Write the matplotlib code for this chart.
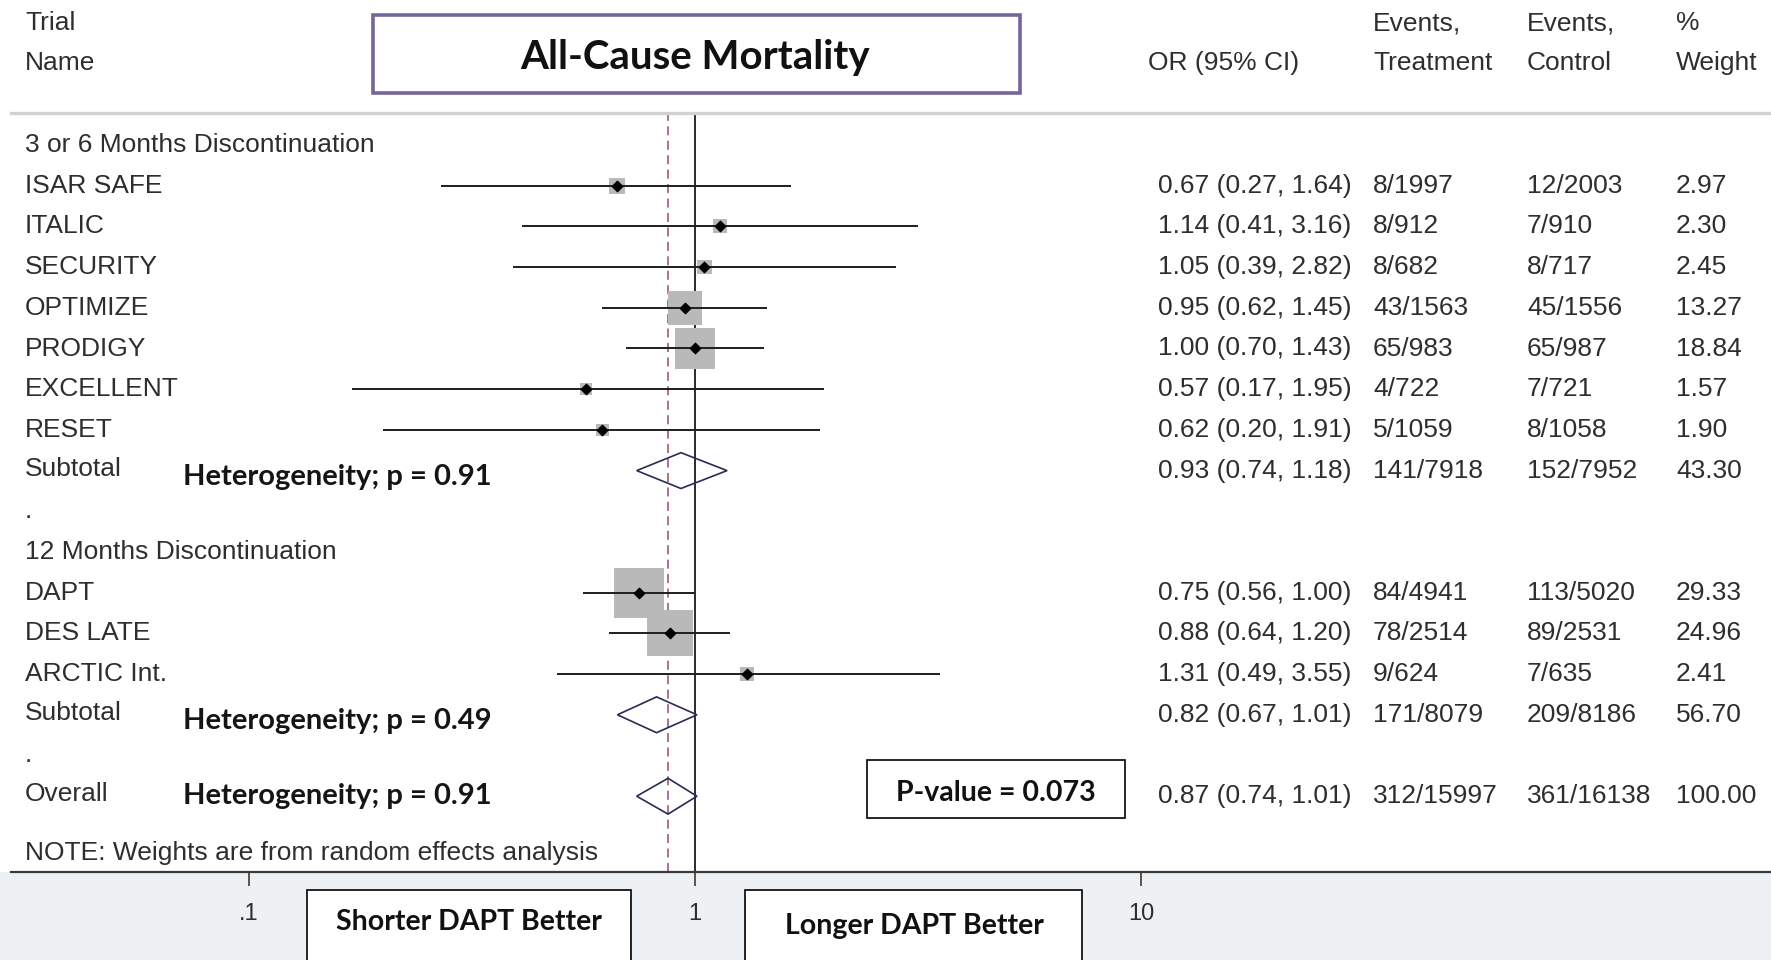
import matplotlib
matplotlib.use("Agg")
import matplotlib.pyplot as plt
import matplotlib.transforms as mtransforms
from matplotlib.patches import Polygon, Rectangle

# ---------------- data ----------------
group_titles = ["3 or 6 Months Discontinuation", "12 Months Discontinuation"]

trials_a = ["ISAR SAFE", "ITALIC", "SECURITY", "OPTIMIZE", "PRODIGY", "EXCELLENT", "RESET"]
or_a = [0.67, 1.14, 1.05, 0.95, 1.00, 0.57, 0.62]
lo_a = [0.27, 0.41, 0.39, 0.62, 0.70, 0.17, 0.20]
hi_a = [1.64, 3.16, 2.82, 1.45, 1.43, 1.95, 1.91]
evt_a = ["8/1997", "8/912", "8/682", "43/1563", "65/983", "4/722", "5/1059"]
evc_a = ["12/2003", "7/910", "8/717", "45/1556", "65/987", "7/721", "8/1058"]
wt_a = [2.97, 2.30, 2.45, 13.27, 18.84, 1.57, 1.90]

trials_b = ["DAPT", "DES LATE", "ARCTIC Int."]
or_b = [0.75, 0.88, 1.31]
lo_b = [0.56, 0.64, 0.49]
hi_b = [1.00, 1.20, 3.55]
evt_b = ["84/4941", "78/2514", "9/624"]
evc_b = ["113/5020", "89/2531", "7/635"]
wt_b = [29.33, 24.96, 2.41]

# pooled estimates: subtotal A, subtotal B, overall
pooled_labels = ["Subtotal", "Subtotal", "Overall"]
pooled_or = [0.93, 0.82, 0.87]
pooled_lo = [0.74, 0.67, 0.74]
pooled_hi = [1.18, 1.01, 1.01]
pooled_evt = ["141/7918", "171/8079", "312/15997"]
pooled_evc = ["152/7952", "209/8186", "361/16138"]
pooled_wt = [43.30, 56.70, 100.00]
heterogeneity_p = [0.91, 0.49, 0.91]
overall_p = 0.073

x_ticks = [0.1, 1, 10]
x_ticklabels = [".1", "1", "10"]

# ---------------- layout (pixels) ----------------
W, H, DPI = 1771, 960, 100
X_ONE = 695          # x pixel of OR = 1
DECADE = 446         # pixels per log10 decade
ROW0_Y = 145         # y pixel of first row
ROW_H = 40.7         # row pitch
AXIS_Y = 872
HEADER_Y = 113
AX_LEFT = 11

REG = ["Liberation Sans", "DejaVu Sans"]
BOLD = ["Lato", "DejaVu Sans"]
TXT = "#2e2e2e"
FS = 19


def px_to_or(x):
    return 10 ** ((x - X_ONE) / DECADE)


def py_to_row(y):
    return (y - ROW0_Y) / ROW_H


def fx(x):
    return x / W


def fy(y):
    return 1 - y / H


fig = plt.figure(figsize=(W / DPI, H / DPI), dpi=DPI)
fig.patch.set_facecolor("white")

# light band under the axis
fig.add_artist(Rectangle((0, 0), 1, fy(AXIS_Y), transform=fig.transFigure,
                         facecolor="#eef1f3", edgecolor="none", zorder=0))

ax = fig.add_axes([fx(AX_LEFT), fy(AXIS_Y), 1 - fx(AX_LEFT), (AXIS_Y - HEADER_Y) / H])
ax.set_xscale("log")
ax.set_xlim(px_to_or(AX_LEFT), px_to_or(W))
ax.set_ylim(py_to_row(AXIS_Y), py_to_row(HEADER_Y))
ax.patch.set_alpha(0)
for s in ["left", "right"]:
    ax.spines[s].set_visible(False)
ax.spines["top"].set_color("#d2d2d2")
ax.spines["top"].set_linewidth(2.4)
ax.spines["bottom"].set_color("#3a3a3a")
ax.spines["bottom"].set_linewidth(1.6)
ax.set_yticks([])
ax.set_xticks(x_ticks)
ax.set_xticklabels(x_ticklabels)
ax.xaxis.set_minor_locator(matplotlib.ticker.NullLocator())
ax.tick_params(axis="x", direction="out", length=10, width=1.2, color="#3a3a3a",
               pad=12, labelsize=17, labelcolor=TXT)
for lab in ax.get_xticklabels():
    lab.set_family(REG)

# row positions
rows_a = list(range(1, 1 + len(trials_a)))
sub_a_row = rows_a[-1] + 1
head_b_row = sub_a_row + 2
rows_b = list(range(head_b_row + 1, head_b_row + 1 + len(trials_b)))
sub_b_row = rows_b[-1] + 1
overall_row = sub_b_row + 2
pooled_rows = [sub_a_row, sub_b_row, overall_row]
het_offsets = [0.15, 0.15, 0.0]
note_row = overall_row + 1.4

# reference lines
ax.axvline(1, color="#1a1a1a", lw=1.3, zorder=1)
ax.axvline(pooled_or[2], color="#a8677f", lw=1.3, ls=(0, (5, 3)), zorder=1)

# study estimates
SQ = 36 ** 2 / 29.33   # square area (pt^2) per % weight
for rows, o, lo, hi, w in [(rows_a, or_a, lo_a, hi_a, wt_a), (rows_b, or_b, lo_b, hi_b, wt_b)]:
    ax.scatter(o, rows, s=[SQ * v for v in w], marker="s", color="#b9b9b9",
               edgecolors="none", zorder=2)
    ax.hlines(rows, lo, hi, color="#1e1e1e", lw=1.4, zorder=3)
    ax.scatter(o, rows, s=28, marker="D", color="black", zorder=4)

# pooled diamonds
HALF = 0.44
for r, o, lo, hi in zip(pooled_rows, pooled_or, pooled_lo, pooled_hi):
    ax.add_patch(Polygon([(lo, r), (o, r - HALF), (hi, r), (o, r + HALF)], closed=True,
                         fill=False, edgecolor="#2a2a58", lw=1.2, zorder=5))

# ---------------- text ----------------
tr = mtransforms.blended_transform_factory(fig.transFigure, ax.transData)
X_NAME, X_HET = 25, 183
X_OR, X_EVT, X_EVC, X_WT = 1158, 1373, 1527, 1676


def rtext(x, r, s, **kw):
    kw.setdefault("family", REG)
    kw.setdefault("fontsize", FS)
    kw.setdefault("color", TXT)
    ax.text(fx(x), r, s, transform=tr, ha="left", va="center", **kw)


def fmt_ci(o, lo, hi):
    return f"{o:.2f} ({lo:.2f}, {hi:.2f})"


rtext(X_NAME, 0, group_titles[0])
rtext(X_NAME, head_b_row, group_titles[1])
rtext(X_NAME, sub_a_row + 1, ".")
rtext(X_NAME, sub_b_row + 1, ".")
rtext(X_NAME, note_row, "NOTE: Weights are from random effects analysis")

for rows, names, o, lo, hi, et, ec, w in [
        (rows_a, trials_a, or_a, lo_a, hi_a, evt_a, evc_a, wt_a),
        (rows_b, trials_b, or_b, lo_b, hi_b, evt_b, evc_b, wt_b)]:
    for i, r in enumerate(rows):
        rtext(X_NAME, r, names[i])
        rtext(X_OR, r, fmt_ci(o[i], lo[i], hi[i]))
        rtext(X_EVT, r, et[i])
        rtext(X_EVC, r, ec[i])
        rtext(X_WT, r, f"{w[i]:.2f}")

for i, r in enumerate(pooled_rows):
    rtext(X_NAME, r - 0.05, pooled_labels[i])
    rtext(X_HET, r + het_offsets[i], f"Heterogeneity; p = {heterogeneity_p[i]:.2f}",
          family=BOLD, fontweight="bold", fontsize=21, color="#151515")
    rtext(X_OR, r, fmt_ci(pooled_or[i], pooled_lo[i], pooled_hi[i]))
    rtext(X_EVT, r, pooled_evt[i])
    rtext(X_EVC, r, pooled_evc[i])
    rtext(X_WT, r, f"{pooled_wt[i]:.2f}")

# column headers
hdr = dict(family=REG, fontsize=FS, color=TXT, ha="left", va="center")
fig.text(fx(25), fy(23), "Trial", **hdr)
fig.text(fx(25), fy(63), "Name", **hdr)
fig.text(fx(1148), fy(63), "OR (95% CI)", **hdr)
fig.text(fx(1373), fy(23), "Events,", **hdr)
fig.text(fx(1373), fy(63), "Treatment", **hdr)
fig.text(fx(1527), fy(23), "Events,", **hdr)
fig.text(fx(1527), fy(63), "Control", **hdr)
fig.text(fx(1676), fy(23), "%", **hdr)
fig.text(fx(1676), fy(63), "Weight", **hdr)


def boxed(x0, y0, x1, y1, label, tx, ty, edge="black", lw=1.2, size=20.5):
    fig.add_artist(Rectangle((fx(x0), fy(y1)), fx(x1 - x0), (y1 - y0) / H,
                             transform=fig.transFigure, facecolor="white",
                             edgecolor=edge, lw=lw, zorder=3))
    fig.text(fx(tx), fy(ty), label, family=BOLD, fontweight="bold", fontsize=size,
             color="#111111", ha="center", va="center", zorder=4)


boxed(373, 15, 1020, 93, "All-Cause Mortality", 695, 57, edge="#74659a", lw=2.6, size=29)
boxed(867, 760, 1125, 818, f"P-value = {overall_p}", 996, 793)
boxed(307, 890, 631, 970, "Shorter DAPT Better", 469, 922)
boxed(745, 890, 1082, 970, "Longer DAPT Better", 914, 926)

fig.savefig("out.png", dpi=DPI, facecolor=fig.get_facecolor())
